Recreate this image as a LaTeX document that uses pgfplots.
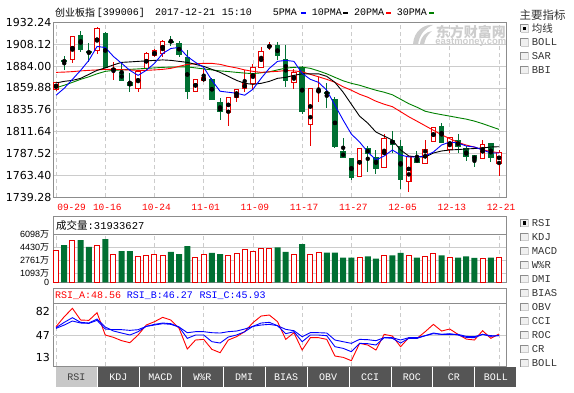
\documentclass[border=0pt]{standalone}
\usepackage{pgfplots}
\pgfplotsset{compat=1.18}
\usepackage{pgfplotstable}
\usepackage{fontspec}
\setmainfont{DejaVu Sans}
\newfontfamily\mono{Liberation Mono}
\newfontfamily\cjk{Noto Sans CJK SC}
\newfontfamily\dv{DejaVu Sans}
\newfontfamily\ls{Liberation Sans}

\definecolor{cRed}{RGB}{232,0,0}
\definecolor{cGrn}{RGB}{0,112,50}
\definecolor{cMAg}{RGB}{0,128,0}
\definecolor{cFrame}{RGB}{140,140,140}
\definecolor{cGrid}{RGB}{204,204,204}
\definecolor{cTab}{RGB}{85,85,85}
\definecolor{cTabSel}{RGB}{200,200,200}
\definecolor{cWm}{RGB}{205,205,205}

% red (rising) candles: index open high low close volume(wan)
\pgfplotstableread{
i O H L C V
0 1858.5 1866.0 1856.3 1865.8 4078
2 1890.8 1917.1 1887.3 1916.6 5365
5 1901.2 1926.8 1897.6 1925.0 4721
7 1879.3 1888.4 1869.1 1880.9 3564
10 1859.0 1879.3 1855.7 1877.7 3306
11 1881.2 1899.6 1878.8 1897.6 3435
12 1895.2 1902.3 1893.5 1900.7 3564
13 1898.2 1912.2 1893.5 1911.6 3435
17 1856.3 1869.4 1856.3 1869.4 3139
18 1867.6 1880.4 1866.5 1871.6 3564
21 1832.9 1849.7 1817.9 1849.7 3435
22 1849.4 1858.1 1844.2 1858.1 3654
23 1859.2 1879.3 1855.5 1864.7 4168
24 1864.3 1885.9 1858.5 1882.9 3950
25 1882.6 1904.5 1881.5 1899.6 4297
26 1905.1 1910.0 1901.2 1906.2 4297
29 1866.1 1881.2 1859.2 1877.1 3564
31 1819.8 1859.2 1796.3 1859.2 3564
32 1855.7 1871.9 1844.5 1856.8 3782
37 1762.7 1793.4 1762.7 1793.4 3139
40 1772.6 1808.8 1772.6 1804.4 3435
43 1756.8 1784.7 1744.8 1784.7 3435
45 1777.0 1803.1 1777.0 1792.3 3306
46 1800.7 1816.5 1800.7 1816.5 3654
48 1791.6 1805.8 1788.3 1805.8 3139
52 1782.5 1802.5 1782.5 1797.8 3010
54 1777.0 1791.6 1763.1 1789.0 3193
}\tRed

% green (falling) candles
\pgfplotstableread{
i O H L C V
1 1889.7 1894.6 1879.8 1889.2 4721
3 1917.7 1923.2 1899.4 1901.8 5365
4 1899.6 1908.9 1888.4 1899.0 4503
6 1919.9 1921.0 1881.5 1882.6 5493
8 1877.4 1887.0 1867.6 1867.6 3950
9 1865.4 1876.0 1855.2 1862.3 3950
14 1911.6 1917.7 1905.6 1910.5 3860
15 1908.9 1911.4 1893.9 1896.3 3564
16 1893.9 1902.0 1847.5 1855.7 4593
19 1869.4 1870.5 1846.4 1847.5 3731
20 1843.4 1848.6 1824.5 1833.6 3564
27 1906.7 1910.3 1891.0 1895.7 4426
28 1891.0 1906.7 1861.0 1867.6 3860
30 1882.0 1883.7 1830.7 1833.6 4850
33 1854.8 1865.4 1837.3 1854.1 3782
34 1847.5 1849.7 1793.4 1795.2 3782
35 1789.4 1804.7 1783.4 1783.4 3139
36 1781.7 1782.8 1758.7 1761.4 3139
38 1793.4 1796.0 1767.8 1787.2 3306
39 1783.6 1791.6 1765.3 1771.5 3010
41 1802.5 1812.4 1788.3 1798.2 3435
42 1795.2 1802.5 1748.8 1758.7 3731
44 1782.5 1790.8 1777.3 1777.7 3139
47 1817.9 1820.9 1799.6 1799.6 3435
49 1801.8 1809.1 1788.0 1795.2 3139
50 1793.4 1796.0 1779.5 1784.2 3306
51 1785.0 1786.1 1773.3 1781.4 3088
53 1798.2 1799.3 1778.8 1783.6 3139
}\tGrn

% moving averages and RSI
\pgfplotstableread{
i ma5 ma10 ma20 ma30 ra rb rc
0 1851.9 1865.4 1877.1 1860.1 59.5 58 57
1 1859.6 1867.2 1877.4 1862.9 74.5 66 62
2 1869.4 1868.3 1877.9 1866.1 87 73 68
3 1879.3 1870.5 1878.7 1869.4 69.5 66 65
4 1890.3 1874.9 1879.3 1872.2 69 65 64.5
5 1905.6 1879.3 1879.8 1875.5 80.5 71 69
6 1904.5 1882.0 1880.4 1878.2 47 59 56
7 1894.6 1885.3 1880.4 1879.3 43.5 53 55
8 1887.0 1888.1 1880.1 1879.8 38.5 50 55
9 1879.3 1888.6 1879.6 1880.4 35.5 47 54
10 1873.8 1889.2 1879.3 1880.9 47 52 55
11 1879.3 1889.7 1879.3 1881.5 62 60 60
12 1887.0 1890.3 1879.8 1882.0 67 63 62
13 1897.9 1890.8 1880.4 1882.6 73.5 65 64
14 1903.4 1890.3 1881.5 1882.9 69.5 64 63
15 1904.5 1889.2 1883.7 1883.1 57 59 59
16 1894.6 1888.1 1885.9 1883.1 26 42 50.5
17 1888.1 1885.9 1886.6 1882.0 39.5 47 52
18 1882.6 1883.7 1887.0 1880.9 40.5 47 52
19 1868.3 1880.4 1887.0 1879.8 25.5 37 50.5
20 1856.3 1877.1 1885.9 1878.7 20.5 35 50
21 1855.2 1872.7 1883.7 1878.0 39.5 44 52
22 1854.1 1868.3 1882.0 1877.1 44.5 47 53
23 1851.9 1865.0 1879.8 1876.3 52 52 56
24 1858.5 1863.9 1878.2 1875.7 65.5 60 60
25 1870.5 1865.0 1877.1 1876.6 75.5 65 62
26 1881.5 1867.2 1877.7 1877.7 77 66 63
27 1889.2 1870.5 1878.2 1879.8 67 61 61
28 1890.3 1871.6 1879.1 1881.8 40.5 49 55.5
29 1889.2 1873.8 1878.7 1882.6 50.5 52 53.5
30 1876.0 1875.5 1877.7 1882.9 24.5 37 44.5
31 1869.4 1875.5 1874.9 1881.5 43 47 50.5
32 1866.1 1875.5 1872.2 1878.7 43 47 50.5
33 1857.4 1872.7 1869.4 1875.5 40.5 46 50
34 1840.9 1866.1 1866.1 1871.6 15.5 29.5 39.5
35 1824.5 1855.2 1861.2 1867.8 13.5 27 37
36 1809.1 1842.0 1857.4 1865.0 8.5 22 34.5
37 1800.4 1828.9 1853.0 1862.9 34.5 34.5 40.5
38 1789.4 1821.2 1849.7 1860.1 32 34 40
39 1780.6 1811.3 1845.3 1857.4 24.5 32 38.5
40 1785.0 1806.9 1842.0 1855.2 48 43 43
41 1791.6 1802.5 1839.3 1852.4 45.5 42 43
42 1786.1 1791.6 1833.8 1847.5 29.5 35 39.5
43 1783.9 1785.0 1828.2 1842.6 43 42 43
44 1783.9 1783.9 1823.3 1838.7 42 42 43
45 1785.0 1783.9 1818.3 1834.3 52 46 46
46 1789.4 1788.3 1813.3 1832.2 63 50 49
47 1797.1 1790.5 1808.4 1830.5 53 48 48
48 1800.4 1791.6 1804.0 1828.9 56 49 48
49 1799.3 1792.1 1800.0 1827.2 48 47 48
50 1796.0 1792.7 1797.0 1825.6 41 43.5 45
51 1794.9 1793.2 1794.8 1823.4 39.5 43 44.5
52 1791.6 1793.8 1791.8 1820.6 53.5 48 48
53 1788.3 1794.9 1789.8 1817.4 42 45 46
54 1788.3 1795.2 1788.6 1814.3 48.56 46.27 45.93
}\tMA

\pgfplotsset{
  panel/.style={
    scale only axis, width=453pt, anchor=north west,
    xmin=-0.37, xmax=54.85,
    axis line style={draw=cFrame, line width=0.9pt},
    major tick length=0pt,
    xtick={0,6,...,54},
    xmajorgrids,
    x grid style={cGrid, dash pattern=on 4pt off 3pt, line width=0.8pt},
    y grid style={cGrid, line width=0.8pt},
    /pgf/number format/assume math mode=true,
  },
  wick/.style={only marks, mark=none, forget plot,
    error bars/.cd, y dir=both, y explicit, error mark=none,
    error bar style={line width=1pt, #1}},
  body/.style 2 args={only marks, mark=none, forget plot,
    error bars/.cd, y dir=both, y explicit, error mark=none,
    error bar style={line width=#1, #2}},
}

\begin{document}
\begin{tikzpicture}[x=1pt,y=1pt]
\path[use as bounding box] (0,0) rectangle (574,393);

% ---------- title line ----------
\node[anchor=west, inner sep=0] at (55,380.3) {\cjk\fontsize{10}{12}\selectfont 创业板指};
\node[anchor=west, inner sep=0] at (96.7,380.3) {\mono\fontsize{10}{12}\selectfont [399006]};
\node[anchor=west, inner sep=0] at (155,380.3) {\mono\fontsize{10}{12}\selectfont 2017-12-21};
\node[anchor=west, inner sep=0] at (221.7,380.3) {\mono\fontsize{10}{12}\selectfont 15:10};
\node[anchor=west, inner sep=0] at (272.7,380.3) {\mono\fontsize{10}{12}\selectfont 5PMA};
\fill[blue] (300.7,378.8) rectangle (305.5,381.3);
\node[anchor=west, inner sep=0] at (311.7,380.3) {\mono\fontsize{10}{12}\selectfont 10PMA};
\fill[black] (343,378.8) rectangle (348,381.3);
\node[anchor=west, inner sep=0] at (354,380.3) {\mono\fontsize{10}{12}\selectfont 20PMA};
\fill[red] (386,378.8) rectangle (391,381.3);
\node[anchor=west, inner sep=0] at (396.7,380.3) {\mono\fontsize{10}{12}\selectfont 30PMA};
\fill[cMAg] (429.3,378.8) rectangle (434.3,381.3);

% ---------- watermark ----------
\fill[cWm] (413,349) .. controls (414,362) and (424,369) .. (433,368)
  .. controls (425,365) and (419,358) .. (418,348) -- cycle;
\fill[cWm] (420,349) .. controls (421,357) and (426,361) .. (432,362)
  .. controls (427,358) and (425,354) .. (424,348) -- cycle;
\node[anchor=center, inner sep=0] at (470.8,361.3) {\cjk\bfseries\fontsize{14}{15}\selectfont\color{cWm}东方财富网};
\node[anchor=center, inner sep=0] at (470.8,350.3) {\ls\bfseries\fontsize{9.5}{10}\selectfont\color{cWm}eastmoney.com};

% ---------- main price panel ----------
\begin{axis}[panel, at={(53pt,370.7pt)}, height=175.2pt,
  ymin=1739.28, ymax=1932.24,
  ytick={1739.28,1763.40,1787.52,1811.64,1835.76,1859.88,1884.00,1908.12,1932.24},
  yticklabels={1739.28,1763.40,1787.52,1811.64,1835.76,1859.88,1884.00,1908.12,1932.24},
  ymajorgrids,
  yticklabel style={font=\dv\fontsize{11}{12}\selectfont, anchor=east, inner sep=0pt, xshift=-1.5pt},
  xticklabels={{\makebox[0pt][l]{\hspace{-0.7pt}09-29}},10-16,10-24,11-01,11-09,11-17,11-27,12-05,12-13,12-21},
  xticklabel style={font=\mono\fontsize{9.5}{10}\selectfont, text=red, anchor=base, inner sep=0pt, yshift=-12.8pt, xshift=2pt},
]
% wicks
\addplot[wick=cRed] table[x=i, y expr={(\thisrow{H}+\thisrow{L})/2}, y error expr={(\thisrow{H}-\thisrow{L})/2}] {\tRed};
\addplot[wick=cGrn] table[x=i, y expr={(\thisrow{H}+\thisrow{L})/2}, y error expr={(\thisrow{H}-\thisrow{L})/2}] {\tGrn};
% bodies
\addplot[body={5.5pt}{cRed}] table[x=i, y expr={(\thisrow{O}+\thisrow{C})/2}, y error expr={abs(\thisrow{C}-\thisrow{O})/2+0.55}] {\tRed};
\addplot[body={3.4pt}{white}] table[x=i, y expr={(\thisrow{O}+\thisrow{C})/2}, y error expr={max(abs(\thisrow{C}-\thisrow{O})/2-0.55,0)}] {\tRed};
\addplot[body={5.5pt}{cGrn}] table[x=i, y expr={(\thisrow{O}+\thisrow{C})/2}, y error expr={abs(\thisrow{C}-\thisrow{O})/2+0.55}] {\tGrn};
% moving averages
\addplot[cMAg, line width=0.9pt, mark=none] table[x=i, y=ma30] {\tMA};
\addplot[red, line width=0.9pt, mark=none] table[x=i, y=ma20] {\tMA};
\addplot[black, line width=0.9pt, mark=none] table[x=i, y=ma10] {\tMA};
\addplot[blue, line width=0.9pt, mark=none] table[x=i, y=ma5] {\tMA};
\end{axis}

% ---------- volume panel ----------
\draw[cFrame, line width=0.9pt] (53,158.7) rectangle (506,176.3);
\node[anchor=west, inner sep=0] at (56,167.8) {\cjk\fontsize{10.5}{12}\selectfont 成交量\mono :31933627};
\begin{axis}[panel, at={(53pt,158.7pt)}, height=48pt,
  ymin=0, ymax=6098,
  ytick={0,1093,2761,4430,6098},
  yticklabels={0,1093{\cjk 万},2761{\cjk 万},4430{\cjk 万},6098{\cjk 万}},
  ymajorgrids,
  yticklabel style={font=\ls\fontsize{9}{10}\selectfont, anchor=east, inner sep=0pt, xshift=-3.7pt},
  xticklabels={},
]
\addplot[ybar, bar width=5pt, bar shift=0pt, draw=cRed, fill=white, line width=1pt] table[x=i, y=V] {\tRed};
\addplot[ybar, bar width=6pt, bar shift=0pt, draw=none, fill=cGrn] table[x=i, y=V] {\tGrn};
\end{axis}

% ---------- RSI panel ----------
\draw[cFrame, line width=0.9pt] (53,89.7) rectangle (506,104.7);
\node[anchor=west, inner sep=0] at (55,97) {\mono\fontsize{10}{12}\selectfont\color{red}RSI\_A:48.56};
\node[anchor=west, inner sep=0] at (126.7,97) {\mono\fontsize{10}{12}\selectfont\color{blue}RSI\_B:46.27};
\node[anchor=west, inner sep=0] at (199.3,97) {\mono\fontsize{10}{12}\selectfont\color{blue}RSI\_C:45.93};
\begin{axis}[panel, at={(53pt,89.7pt)}, height=62.7pt,
  ymin=0.55, ymax=94.6,
  ytick={13,82}, yticklabels={13,82},
  extra y ticks={47}, extra y tick labels={47},
  extra y tick style={ymajorgrids},
  yticklabel style={font=\dv\fontsize{11}{12}\selectfont, anchor=east, inner sep=0pt, xshift=-3pt},
  xticklabels={},
]
\addplot[red, line width=0.9pt, mark=none] table[x=i, y=ra] {\tMA};
\addplot[blue, line width=0.9pt, mark=none] table[x=i, y=rb] {\tMA};
\addplot[blue, line width=0.9pt, mark=none] table[x=i, y=rc] {\tMA};
\end{axis}

% ---------- bottom tabs ----------
\foreach \k/\lab in {0/RSI,1/KDJ,2/MACD,3/W\%R,4/DMI,5/BIAS,6/OBV,7/CCI,8/ROC,9/CR,10/BOLL}{
  \pgfmathsetmacro{\xa}{56+41.94*\k}
  \pgfmathsetmacro{\xb}{\xa+40.94}
  \pgfmathsetmacro{\xc}{\xa+20.47}
  \ifnum\k=0
    \fill[cTabSel] (\xa,6.3) rectangle (\xb,26.3);
    \node[inner sep=0] at (\xc,15.7) {\mono\fontsize{10}{12}\selectfont\color{black!75}\lab};
  \else
    \fill[cTab] (\xa,6.3) rectangle (\xb,26.3);
    \node[inner sep=0] at (\xc,15.7) {\mono\fontsize{10}{12}\selectfont\color{white}\lab};
  \fi
}

% ---------- right side selectors ----------
\node[anchor=west, inner sep=0] at (519.5,378) {\cjk\fontsize{11.5}{13}\selectfont\color{black!80}主要指标};
\foreach \yy/\lab/\c in {364.7/{\cjk 均线}/1, 350.7/BOLL/0, 337/SAR/0, 323/BBI/0,
  170/RSI/1, 156/KDJ/0, 142/MACD/0, 128/W\%R/0, 114/DMI/0, 100/BIAS/0,
  86/OBV/0, 72/CCI/0, 58/ROC/0, 44/CR/0, 30/BOLL/0}{
  \fill[black!6] (520.7,\yy-3.8) rectangle (528.3,\yy+3.8);
  \draw[black!45, line width=0.7pt] (520.7,\yy-3.8) -- (520.7,\yy+3.8) -- (528.3,\yy+3.8);
  \draw[black!20, line width=0.7pt] (528.3,\yy+3.8) -- (528.3,\yy-3.8) -- (520.7,\yy-3.8);
  \ifnum\c=1 \fill[black] (522.8,\yy-1.7) rectangle (526.2,\yy+1.7); \fi
  \node[anchor=west, inner sep=0] at (531.7,\yy) {\mono\fontsize{10.5}{12}\selectfont\color{black!80}\lab};
}
\end{tikzpicture}
\end{document}
